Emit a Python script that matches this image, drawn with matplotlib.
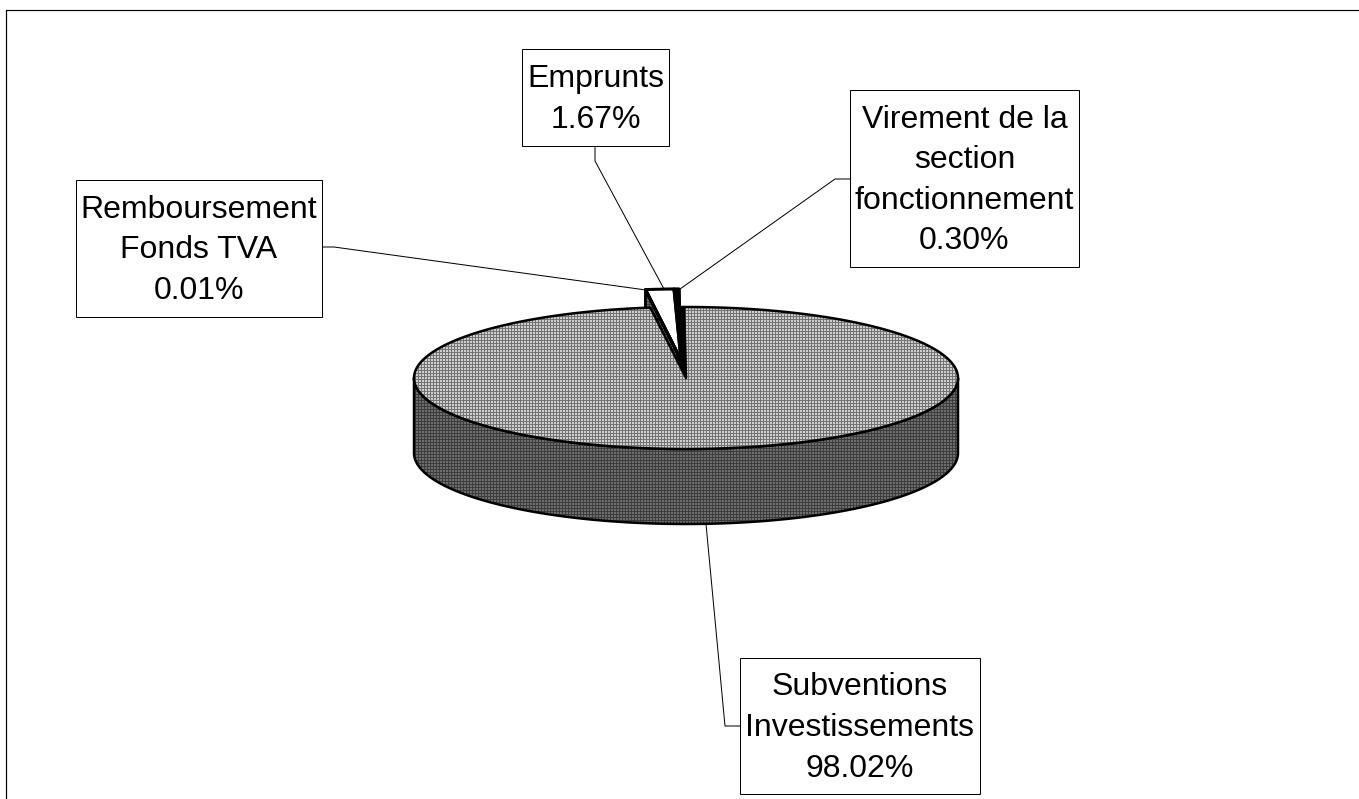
import numpy as np
import matplotlib
matplotlib.use("Agg")
import matplotlib.pyplot as plt
from matplotlib.patches import Polygon, Rectangle

plt.rcParams['font.family'] = ['Liberation Sans', 'DejaVu Sans']
plt.rcParams['hatch.linewidth'] = 1.0

# slices, going counterclockwise from the start angle
labels = ["Virement de la\nsection\nfonctionnement", "Emprunts", "Remboursement\nFonds TVA", "Subventions\nInvestissements"]
values = [0.30, 1.67, 0.01, 98.02]
value_text = ["0.30%", "1.67%", "0.01%", "98.02%"]

# label boxes in pixels: left, top, right, bottom
boxes = [(850, 90, 1079, 267), (522, 49, 669, 146), (76, 180, 322, 317), (740, 658, 980, 794)]
leaders = [
    [(850, 179), (835, 179), (680, 289)],
    [(595, 146), (595, 161), (664, 289)],
    [(322, 247), (334, 247), (646, 290)],
    [(740, 726), (725, 726), (706, 524)],
]

cx, cy = 686, 378
rx, ry = 272, 71
depth = 75
start = 90.4
explode = (-5, -18)

fig = plt.figure(figsize=(1359 / 72, 799 / 72), dpi=72)
ax = fig.add_axes([0, 0, 1, 1])
ax.set_xlim(0, 1359)
ax.set_ylim(799, 0)
ax.axis('off')


def arc(t0, t1, ox=0, oy=0):
    t = np.radians(np.linspace(t0, t1, max(int(abs(t1 - t0) * 3), 2)))
    return np.column_stack([cx + ox + rx * np.cos(t), cy + oy - ry * np.sin(t)])


def shape(xy, face, hatch=None, hatch_col='black', z=1, lw=2.5):
    if hatch:
        ax.add_patch(Polygon(xy, facecolor=face, edgecolor=hatch_col, hatch=hatch, lw=0, zorder=z))
    else:
        ax.add_patch(Polygon(xy, facecolor=face, edgecolor='none', zorder=z))
    ax.add_patch(Polygon(xy, fill=False, edgecolor='black', lw=lw, zorder=z + 0.1, joinstyle='round'))


# angles of each slice from the values
edges = start + np.cumsum([0] + values) * 3.6

# outer wall of the disc
front = arc(180, 360)
wall = np.vstack([front, front[::-1] + [0, depth]])
shape(wall, '#6e6e6e', '++++', '#3c3c3c', z=1)

# the notch left by the pulled out slices
notch = np.vstack([[cx, cy + 4], arc(edges[0], edges[3])])
shape(notch, 'black', z=2)

# walls of the pulled out slices
for i in range(3):
    rim = arc(edges[i], edges[i + 1], *explode)
    top = np.vstack([[cx + explode[0], cy + explode[1]], rim])
    low = top + [0, 30]
    shape(np.vstack([top, low[::-1]]), '#6e6e6e', '++++', '#3c3c3c', z=3)

# big slice top
big = np.vstack([[cx, cy], arc(edges[3], edges[4])])
shape(big, '#cfcfcf', '++++', '#737373', z=4)

# tops of the pulled out slices
faces = ['black', 'white', 'white']
for i in range(3):
    rim = arc(edges[i], edges[i + 1], *explode)
    top = np.vstack([[cx + explode[0], cy + explode[1]], rim])
    shape(top, faces[i], z=5, lw=3)

# leader lines and label boxes
for path in leaders:
    xs, ys = zip(*path)
    ax.plot(xs, ys, color='black', lw=1, zorder=6)

for box, lab, val in zip(boxes, labels, value_text):
    l, t, r, b = box
    ax.add_patch(Rectangle((l, t), r - l, b - t, facecolor='white', edgecolor='black', lw=1, zorder=7))
    ax.text((l + r) / 2, (t + b) / 2 + 2, lab + "\n" + val, ha='center', va='center',
            fontsize=32, linespacing=1.46, color='black', zorder=8)

# chart frame, only top and left fall inside the picture
ax.plot([5.5, 5.5, 1359], [799, 9.5, 9.5], color='black', lw=1.2, zorder=9)

fig.savefig("out.png", dpi=72, facecolor='white')
